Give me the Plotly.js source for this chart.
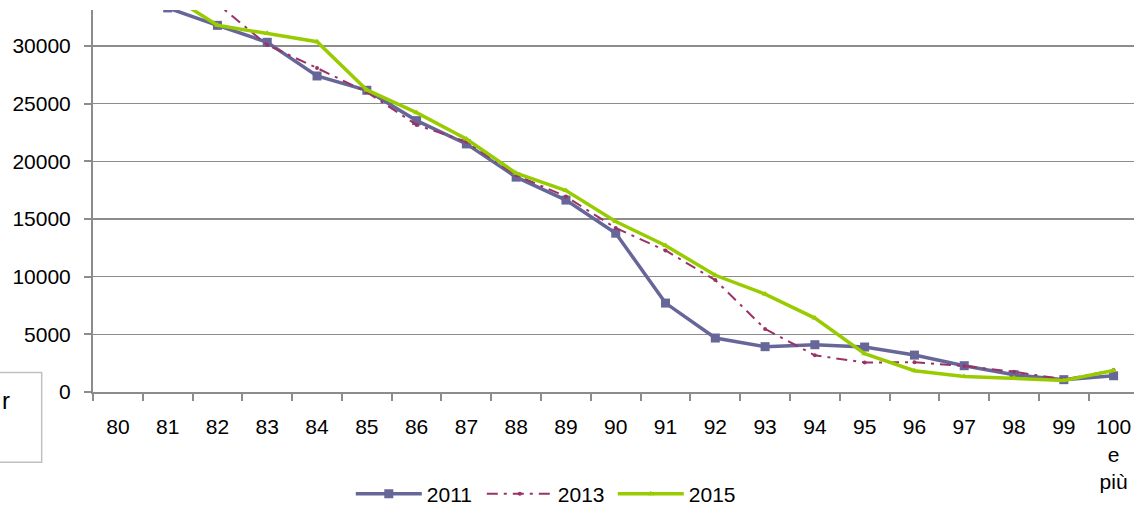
<!DOCTYPE html>
<html>
<head>
<meta charset="utf-8">
<script src="https://cdn.plot.ly/plotly-3.0.1.min.js"></script>
<style>
html,body{margin:0;padding:0;background:#fff;overflow:hidden;}
#chart{width:1134px;height:506px;}
</style>
</head>
<body>
<div id="chart"></div>
<script>
// Categories (age) and tick labels
const ages = ["80","81","82","83","84","85","86","87","88","89","90","91","92","93","94","95","96","97","98","99","100"];
const ageLabels = ["80","81","82","83","84","85","86","87","88","89","90","91","92","93","94","95","96","97","98","99","100<br>e<br>più"];

// Series values (80 and 81 partly above the visible top; estimated)
const v2011 = [35800, 33300, 31790, 30320, 27400, 26160, 23530, 21510, 18630, 16640, 13770, 7710, 4680, 3930, 4100, 3900, 3200, 2280, 1500, 1070, 1410];
const v2013 = [38000, 36200, 33660, 30090, 28090, 26000, 23160, 21700, 18800, 16950, 14210, 12270, 9700, 5470, 3180, 2560, 2580, 2250, 1750, 1100, 1900];
const v2015 = [37000, 34540, 31790, 31100, 30370, 26190, 24220, 21940, 18970, 17470, 14780, 12700, 10120, 8490, 6410, 3320, 1850, 1350, 1210, 1000, 1870];

const names = ["2011", "2013", "2015"];

const font = {family: "Liberation Sans, Arial, sans-serif", size: 21, color: "#000"};
const gray = "#8c8c8c";

const traces = [
  {x: ages, y: v2011, name: names[0], type: "scatter", mode: "lines+markers",
   line: {color: "#666699", width: 3.5}, marker: {symbol: "square", size: 9, color: "#666699"}},
  {x: ages, y: v2013, name: names[1], type: "scatter", mode: "lines+markers",
   line: {color: "#993366", width: 2, dash: "11px,6px,3px,6px"}, marker: {symbol: "circle", size: 4, color: "#993366"}},
  {x: ages, y: v2015, name: names[2], type: "scatter", mode: "lines+markers",
   line: {color: "#99CC00", width: 3.5}, marker: {symbol: "triangle-up", size: 6, color: "#99CC00"}}
];

const layout = {
  width: 1134, height: 506,
  margin: {l: 93, r: 0, t: 10, b: 114},
  paper_bgcolor: "#fff", plot_bgcolor: "#fff",
  font: font,
  showlegend: true,
  legend: {orientation: "h", xref: "paper", yref: "container", x: 0.4364, xanchor: "center",
           y: 0.0237, yanchor: "middle", entrywidth: 50,
           font: font, itemwidth: 66, tracegroupgap: 0, bgcolor: "rgba(0,0,0,0)", borderwidth: 0},
  xaxis: {
    type: "category", categoryorder: "array", categoryarray: ages,
    tickmode: "array", tickvals: ages, ticktext: ageLabels,
    range: [-0.5, 20.41],
    showline: true, linecolor: gray, linewidth: 2,
    ticks: "outside", ticklen: 7, tickcolor: gray, tickwidth: 2, tickson: "boundaries",
    showgrid: false, zeroline: false, ticklabelstandoff: 15,
    tickfont: font, fixedrange: true, automargin: false
  },
  yaxis: {
    range: [0, 33120], tickmode: "linear", tick0: 0, dtick: 5000, tickformat: "d",
    showline: true, linecolor: gray, linewidth: 2,
    ticks: "outside", ticklen: 7, tickcolor: gray, tickwidth: 2,
    showgrid: true, gridcolor: gray, gridwidth: 1.5, zeroline: false,
    ticklabelstandoff: 9, tickfont: font, fixedrange: true, automargin: false
  },
  shapes: [
    {type: "rect", xref: "paper", yref: "paper", x0: -0.092, x1: -0.0493, y0: -0.184, y1: 0.0513,
     line: {color: "#c0c0c0", width: 1.5}, fillcolor: "rgba(0,0,0,0)"}
  ],
  annotations: [
    {text: "r", xref: "paper", yref: "paper", x: -0.0895, xanchor: "left", y: -0.0228, yanchor: "middle",
     showarrow: false, font: {family: "Liberation Sans, Arial, sans-serif", size: 24, color: "#000"}}
  ]
};

Plotly.newPlot("chart", traces, layout, {displayModeBar: false, staticPlot: true});
</script>
</body>
</html>
